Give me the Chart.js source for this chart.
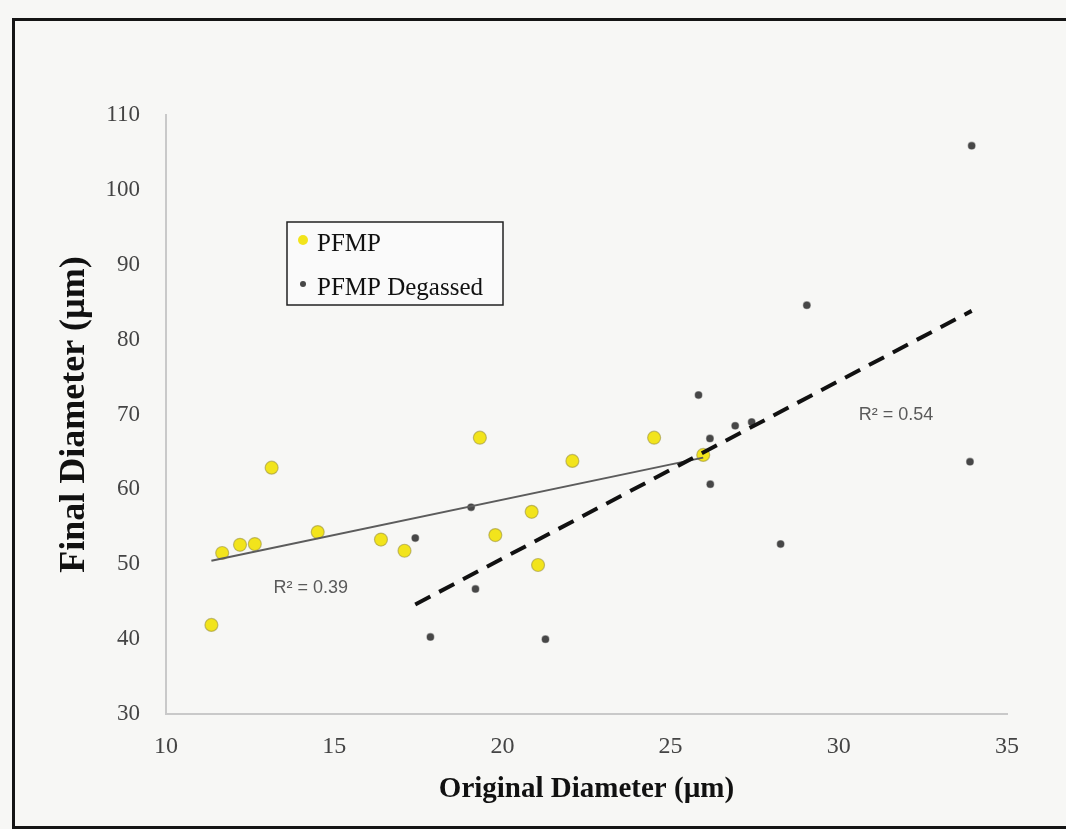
<!DOCTYPE html>
<html>
<head>
<meta charset="utf-8">
<title>Final vs Original Diameter</title>
<script src="https://cdn.jsdelivr.net/npm/chart.js@4.4.1/dist/chart.umd.min.js"></script>
<style>
  html, body { margin: 0; padding: 0; background: #f7f7f5; }
  #frame { position: absolute; left: 12px; top: 18px; width: 1090px; height: 805px; border: 3px solid #151515; }
  #wrap { position: absolute; left: 0; top: 0; width: 1066px; height: 829px; }
</style>
</head>
<body>
<div id="frame"></div>
<div id="wrap"><canvas id="diameterChart" width="1066" height="829"></canvas></div>
<script>
// PFMP microbubbles: original vs final diameter (um)
var pfmpOriginal = [11.35, 11.67, 12.20, 12.64, 13.14, 14.51, 16.39, 17.09, 19.33, 19.79, 20.87, 21.06, 22.08, 24.51, 25.97];
var pfmpFinal    = [41.9, 51.5, 52.6, 52.7, 62.9, 54.3, 53.3, 51.8, 66.9, 53.9, 57.0, 49.9, 63.8, 66.9, 64.6];

// degassed PFMP
var degassedOriginal = [17.41, 19.07, 19.20, 17.86, 21.28, 25.83, 26.17, 26.92, 27.41, 26.18, 28.27, 29.05, 33.95, 33.90];
var degassedFinal    = [53.5, 57.6, 46.7, 40.3, 40.0, 72.6, 66.8, 68.5, 69.0, 60.7, 52.7, 84.6, 105.9, 63.7];

var xTicks = [10, 15, 20, 25, 30, 35];
var yTicks = [30, 40, 50, 60, 70, 80, 90, 100, 110];

var seriesNames = ['PFMP', 'PFMP Degassed'];
var r2Text = ['R\u00B2 = 0.39', 'R\u00B2 = 0.54'];
var r2At = [[14.3, 46.8], [31.7, 69.9]];

function toPoints(xs, ys) {
    return xs.map(function(x, i) { return { x: x, y: ys[i] }; });
}

// least squares line over the range of the data
function fitLine(xs, ys) {
    var n = xs.length, mx = 0, my = 0, sxy = 0, sxx = 0;
    for (var i = 0; i < n; i++) { mx += xs[i]; my += ys[i]; }
    mx /= n; my /= n;
    for (var j = 0; j < n; j++) {
        sxy += (xs[j] - mx) * (ys[j] - my);
        sxx += (xs[j] - mx) * (xs[j] - mx);
    }
    var b = sxy / sxx, a = my - b * mx;
    var lo = Math.min.apply(null, xs), hi = Math.max.apply(null, xs);
    return [{ x: lo, y: a + b * lo }, { x: hi, y: a + b * hi }];
}

var serif = '"Liberation Serif", "Times New Roman", serif';

var notesPlugin = {
    id: 'notes',
    afterDatasetsDraw: function(chart) {
        var ctx = chart.ctx, xs = chart.scales.x, ys = chart.scales.y;
        ctx.save();
        // R squared labels
        ctx.font = '18px "Liberation Sans Narrow", "Liberation Sans", sans-serif';
        ctx.fillStyle = '#5a5a5a';
        ctx.textAlign = 'center';
        ctx.textBaseline = 'middle';
        r2Text.forEach(function(t, i) {
            ctx.fillText(t, xs.getPixelForValue(r2At[i][0]), ys.getPixelForValue(r2At[i][1]));
        });

        // legend box
        var bx = chart.chartArea.left + 121, by = chart.chartArea.top + 107;
        ctx.fillStyle = '#fafafa';
        ctx.fillRect(bx, by, 216, 83);
        ctx.strokeStyle = '#222';
        ctx.lineWidth = 1.5;
        ctx.strokeRect(bx, by, 216, 83);
        ctx.font = '25px ' + serif;
        ctx.textAlign = 'left';
        var rows = [by + 20, by + 64];
        chart.data.datasets.slice(0, 2).forEach(function(ds, i) {
            ctx.beginPath();
            ctx.arc(bx + 16, rows[i] - 2, i === 0 ? 5 : 3, 0, Math.PI * 2);
            ctx.fillStyle = ds.backgroundColor;
            ctx.fill();
            ctx.fillStyle = '#111';
            ctx.fillText(seriesNames[i], bx + 30, rows[i] + 2);
        });
        ctx.restore();
    }
};

document.addEventListener("DOMContentLoaded", function() {
    var ctx = document.getElementById('diameterChart').getContext('2d');
    var myChart = new Chart(ctx, {
        type: 'scatter',
        data: {
            datasets: [{
                label: seriesNames[0],
                data: toPoints(pfmpOriginal, pfmpFinal),
                backgroundColor: '#f2e41c',
                borderColor: 'rgba(150, 140, 60, 0.55)',
                borderWidth: 1.2,
                pointRadius: 6.5,
                order: 2
            }, {
                label: seriesNames[1],
                data: toPoints(degassedOriginal, degassedFinal),
                backgroundColor: '#474747',
                borderColor: 'rgba(70, 70, 70, 0.45)',
                borderWidth: 1.2,
                pointRadius: 3.5,
                order: 3
            }, {
                label: 'PFMP trend',
                type: 'line',
                data: fitLine(pfmpOriginal, pfmpFinal),
                borderColor: '#5c5c5c',
                borderWidth: 2,
                pointRadius: 0,
                fill: false,
                order: 1
            }, {
                label: 'PFMP Degassed trend',
                type: 'line',
                data: fitLine(degassedOriginal, degassedFinal),
                borderColor: '#111',
                borderWidth: 4,
                borderDash: [17, 10],
                pointRadius: 0,
                fill: false,
                order: 0
            }]
        },
        options: {
            responsive: false,
            animation: false,
            layout: {
                padding: { top: 115, right: 59, bottom: 0, left: 0 }
            },
            plugins: {
                legend: { display: false },
                tooltip: { enabled: false }
            },
            scales: {
                x: {
                    type: 'linear',
                    min: 10,
                    max: 35,
                    afterBuildTicks: function(axis) {
                        axis.ticks = xTicks.map(function(v) { return { value: v }; });
                    },
                    afterFit: function(axis) { axis.height = 115; },
                    grid: { display: false, drawTicks: false },
                    border: { display: true, color: '#c9c9c9', width: 2 },
                    ticks: {
                        padding: 18,
                        color: '#444',
                        font: { family: serif, size: 24 },
                        maxRotation: 0
                    },
                    title: {
                        display: true,
                        text: 'Original Diameter (\u00B5m)',
                        color: '#111',
                        font: { family: serif, size: 29, weight: 'bold' },
                        padding: { top: 0, bottom: 22 }
                    }
                },
                y: {
                    type: 'linear',
                    min: 30,
                    max: 110,
                    afterBuildTicks: function(axis) {
                        axis.ticks = yTicks.map(function(v) { return { value: v }; });
                    },
                    afterFit: function(axis) { axis.width = 166; },
                    grid: { display: false, drawTicks: false },
                    border: { display: true, color: '#c9c9c9', width: 2 },
                    ticks: {
                        padding: 26,
                        color: '#444',
                        font: { family: serif, size: 23 }
                    },
                    title: {
                        display: true,
                        text: 'Final Diameter (\u00B5m)',
                        color: '#111',
                        font: { family: serif, size: 36, weight: 'bold' },
                        padding: { top: 53, bottom: 0 }
                    }
                }
            }
        },
        plugins: [notesPlugin]
    });
});
</script>
</body>
</html>
